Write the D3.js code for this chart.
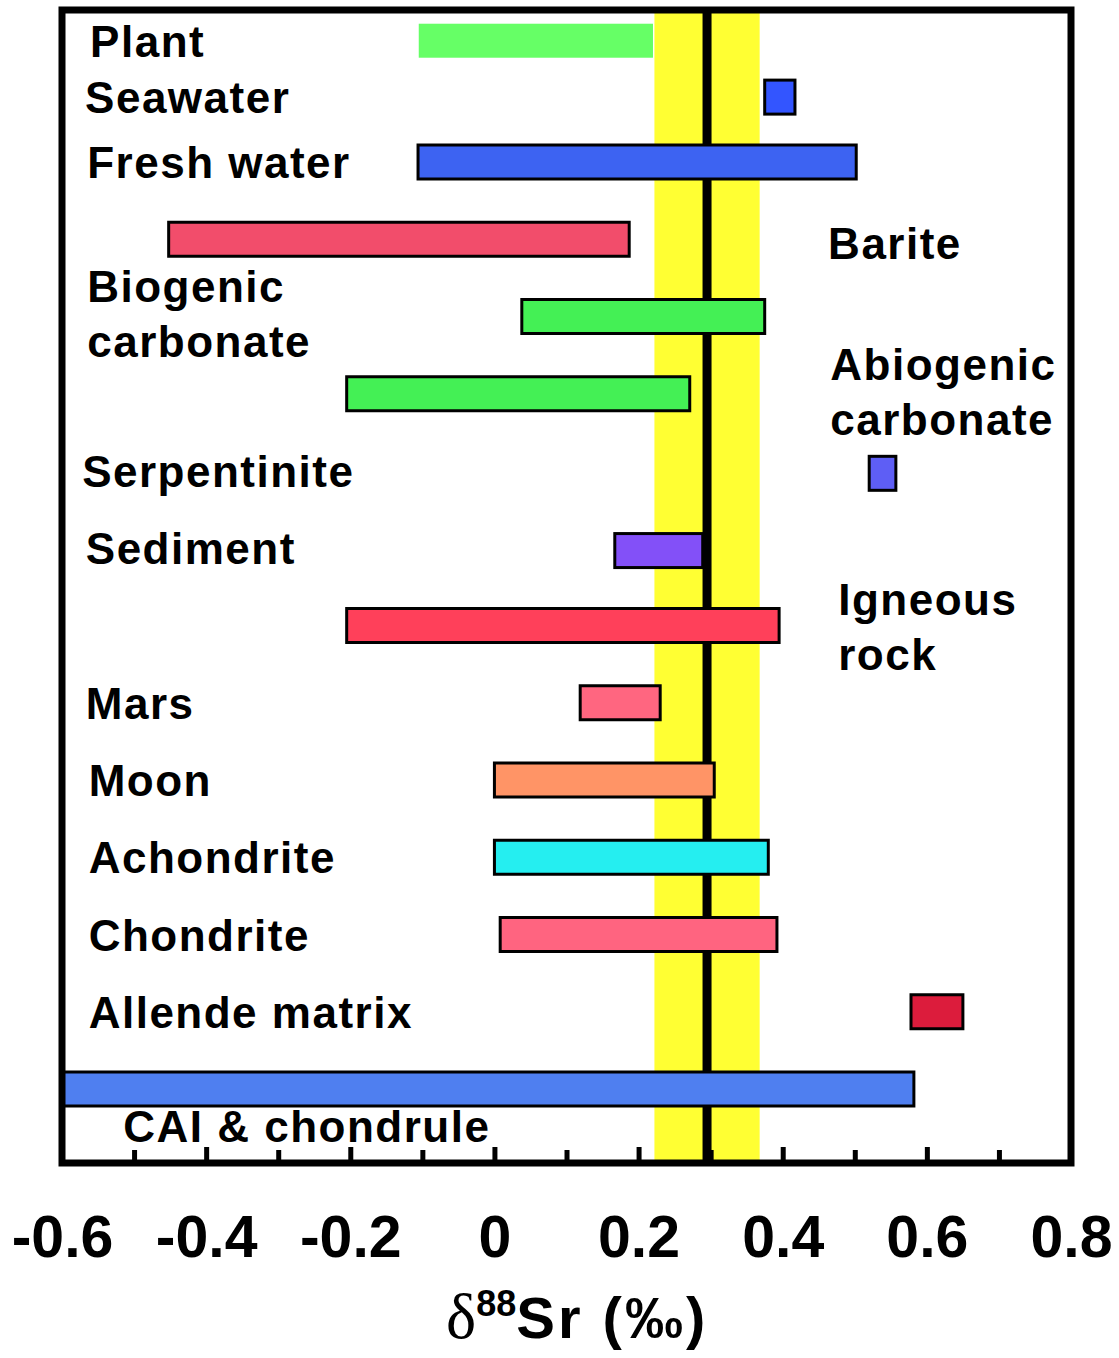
<!DOCTYPE html>
<html>
<head>
<meta charset="utf-8">
<script src="https://cdn.jsdelivr.net/npm/d3@7"></script>
<style>
  body { margin: 0; background: #fff; }
  text { font-family: "Liberation Sans", Arial, sans-serif; font-weight: bold; fill: #000; }
</style>
</head>
<body>
<div id="chart"></div>
<script>
// data
var categories = ["Plant", "Seawater", "Fresh water", "Barite", "Biogenic carbonate",
  "Abiogenic carbonate", "Serpentinite", "Sediment", "Igneous rock", "Mars", "Moon",
  "Achondrite", "Chondrite", "Allende matrix", "CAI & chondrule"]
var rowIndex = [-1.57, -0.84, 0, 1, 2, 3, 4.03, 5.03, 6, 7, 8, 9, 10, 11, 12]
var lowValues  = [-0.105, 0.375, -0.106, -0.452, 0.038, -0.205, 0.52, 0.167, -0.205, 0.119, 0.0, 0.0, 0.008, 0.578, -0.6]
var highValues = [0.22, 0.417, 0.502, 0.187, 0.375, 0.271, 0.557, 0.289, 0.395, 0.23, 0.305, 0.38, 0.392, 0.65, 0.582]
var barColors = ["#66ff66", "#3355ff", "#3d63f2", "#f24d6b", "#44f055", "#44f055", "#5e5ef5",
  "#8350f8", "#ff405a", "#ff6680", "#ff9466", "#25eef0", "#ff6480", "#dc1c3c", "#4f7ff0"]

// bulk earth reference value and its band
var refValue = 0.295
var refBand = [0.222, 0.368]

// axis ticks
var majorTicks = [-0.6, -0.4, -0.2, 0, 0.2, 0.4, 0.6, 0.8]
var minorTicks = [-0.5, -0.3, -0.1, 0.1, 0.3, 0.5, 0.7]

// annotation labels (text, x value, row)
var labelTexts = ["Plant", "Seawater", "Fresh water", "Barite", "Biogenic\ncarbonate",
  "Abiogenic\ncarbonate", "Serpentinite", "Sediment", "Igneous\nrock", "Mars", "Moon",
  "Achondrite", "Chondrite", "Allende matrix", "CAI & chondrule"]
var labelX   = [-0.561, -0.568, -0.565, 0.463, -0.565, 0.466, -0.572, -0.567, 0.477, -0.567, -0.563, -0.563, -0.563, -0.563, -0.515]
var labelRow = [-1.57, -0.84, 0, 1.05, 1.6, 2.61, 4.0, 5.0, 5.66, 7, 8, 9, 10, 11, 12.48]

var width = 1119,
    height = 1358

var svg = d3.select("#chart")
  .append("svg")
    .attr("width", width)
    .attr("height", height)

// scales
var x = d3.scaleLinear().domain([-0.6, 0.8]).range([62, 1071])
var y = d3.scaleLinear().domain([0, 12]).range([162, 1089])
var color = d3.scaleOrdinal().domain(categories).range(barColors)
var barH = 34

var plotTop = 10, plotBottom = 1163

// yellow band + reference line
svg.append("rect")
  .attr("x", x(refBand[0]))
  .attr("y", plotTop)
  .attr("width", x(refBand[1]) - x(refBand[0]))
  .attr("height", plotBottom - plotTop)
  .attr("fill", "#ffff33")

svg.append("line")
  .attr("x1", x(refValue)).attr("x2", x(refValue))
  .attr("y1", plotTop).attr("y2", plotBottom)
  .attr("stroke", "#000")
  .attr("stroke-width", 9)

// bars
var rows = categories.map(function(c, i) {
  return {key: c, row: rowIndex[i], lo: lowValues[i], hi: highValues[i]}
})

svg.selectAll("allBars")
  .data(rows)
  .enter()
  .append("rect")
    .attr("x", function(d) { return x(d.lo) })
    .attr("y", function(d) { return y(d.row) - barH / 2 })
    .attr("width", function(d) { return x(d.hi) - x(d.lo) })
    .attr("height", barH)
    .attr("fill", function(d) { return color(d.key) })
    .attr("stroke", function(d) { return d.key == "Plant" ? "none" : "#000" })
    .attr("stroke-width", 3)

// axis ticks (inward)
var major = svg.append("g")
  .attr("transform", "translate(0," + plotBottom + ")")
  .call(d3.axisBottom(x)
    .tickValues(majorTicks)
    .tickSize(-16)
    .tickPadding(52)
    .tickFormat(function(d) { return d === 0 ? "0" : d.toFixed(1) }))
major.select(".domain").remove()
major.selectAll(".tick line").attr("stroke", "#000").attr("stroke-width", 5)
major.selectAll(".tick text")
  .style("font-family", '"Liberation Sans", Arial, sans-serif')
  .style("font-weight", "bold")
  .style("font-size", "59px")
  .attr("fill", "#000")

var minor = svg.append("g")
  .attr("transform", "translate(0," + plotBottom + ")")
  .call(d3.axisBottom(x).tickValues(minorTicks).tickSize(-13).tickFormat(""))
minor.select(".domain").remove()
minor.selectAll(".tick line").attr("stroke", "#000").attr("stroke-width", 5)

// frame
svg.append("rect")
  .attr("x", x(-0.6))
  .attr("y", plotTop)
  .attr("width", x(0.8) - x(-0.6))
  .attr("height", plotBottom - plotTop)
  .attr("fill", "none")
  .attr("stroke", "#000")
  .attr("stroke-width", 7)

// labels
var labels = labelTexts.map(function(t, i) {
  return {text: t, xv: labelX[i], row: labelRow[i]}
})

var lab = svg.selectAll("allLabels")
  .data(labels)
  .enter()
  .append("text")
    .attr("x", function(d) { return x(d.xv) })
    .attr("y", function(d) { return y(d.row) + 16 })
    .style("font-size", "44px")
    .style("letter-spacing", "1.5px")

lab.each(function(d) {
  var el = d3.select(this)
  d.text.split("\n").forEach(function(line, k) {
    el.append("tspan")
      .attr("x", x(d.xv))
      .attr("dy", k == 0 ? 0 : 55)
      .text(line)
  })
})

// x axis title
var title = svg.append("text")
  .attr("x", 446)
  .attr("y", 1338)
title.append("tspan")
  .style("font-family", '"Liberation Serif", "Times New Roman", serif')
  .style("font-weight", "normal")
  .style("font-size", "64px")
  .text("δ")
title.append("tspan")
  .attr("dy", -22)
  .style("font-size", "36px")
  .text("88")
title.append("tspan")
  .attr("dy", 22)
  .style("font-size", "58px")
  .style("letter-spacing", "3px")
  .text("Sr (‰)")
</script>
</body>
</html>
